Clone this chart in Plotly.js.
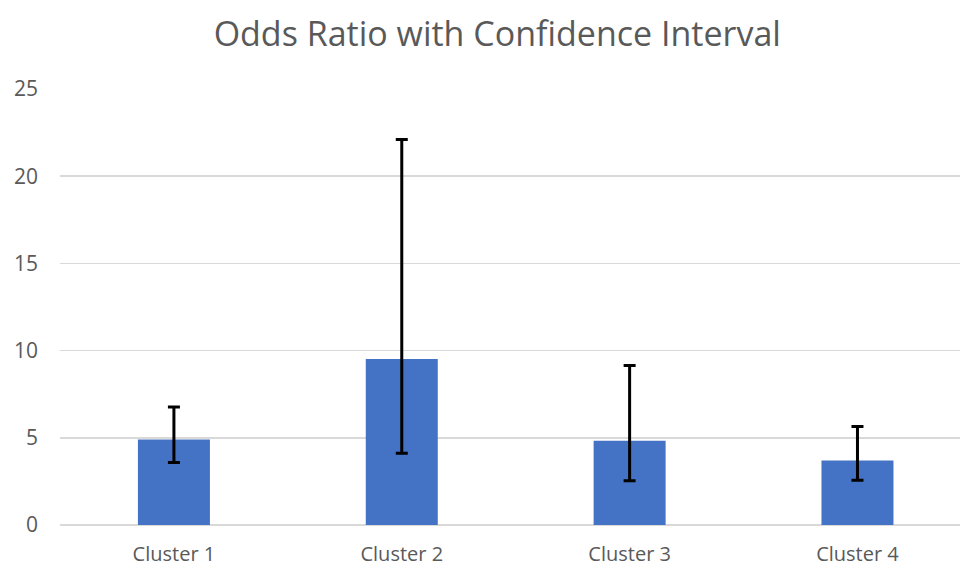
<!DOCTYPE html>
<html><head><meta charset="utf-8">
<script src="https://cdn.plot.ly/plotly-3.0.1.min.js"></script>
<style>body{margin:0;background:#fff}#c{width:960px;height:567px}</style>
</head><body><div id="c"></div>
<script>
const categories = ["Cluster 1", "Cluster 2", "Cluster 3", "Cluster 4"];
const oddsRatio = [4.9, 9.52, 4.83, 3.7];
const ciUpper = [6.77, 22.1, 9.15, 5.65];
const ciLower = [3.59, 4.11, 2.54, 2.56];
const yTicks = [0, 5, 10, 15, 20, 25];

const trace = {
  type: "bar",
  x: categories,
  y: oddsRatio,
  width: 0.316,
  marker: {color: "#4472C4"},
  error_y: {
    type: "data",
    symmetric: false,
    array: oddsRatio.map((v, i) => ciUpper[i] - v),
    arrayminus: oddsRatio.map((v, i) => v - ciLower[i]),
    color: "#000000",
    thickness: 3,
    width: 6
  },
  hoverinfo: "x+y"
};

const layout = {
  width: 960, height: 567,
  margin: {l: 60, r: 0, t: 89, b: 42},
  paper_bgcolor: "#ffffff",
  plot_bgcolor: "#ffffff",
  font: {family: "Open Sans, Lato, sans-serif", color: "#595959"},
  title: {text: "Odds Ratio with Confidence Interval", x: 0.518, xanchor: "center", y: 0.94, yanchor: "middle",
          font: {size: 34, color: "#595959", family: "Open Sans, sans-serif"}},
  showlegend: false,
  xaxis: {
    range: [-0.5, 3.45],
    showgrid: false, zeroline: false, showline: false,
    ticks: "", tickfont: {size: 20, color: "#595959"},
    ticklabelstandoff: 15
  },
  yaxis: {
    range: [0, 25],
    tickvals: yTicks,
    ticktext: yTicks.map(String),
    showgrid: true, gridcolor: "#d9d9d9", gridwidth: 1.5,
    zeroline: true, zerolinecolor: "#d9d9d9", zerolinewidth: 1.5,
    showline: false, ticks: "",
    tickfont: {size: 21, color: "#595959"},
    ticklabelstandoff: 21
  }
};

Plotly.newPlot("c", [trace], layout, {displayModeBar: false, staticPlot: true});
</script></body></html>
